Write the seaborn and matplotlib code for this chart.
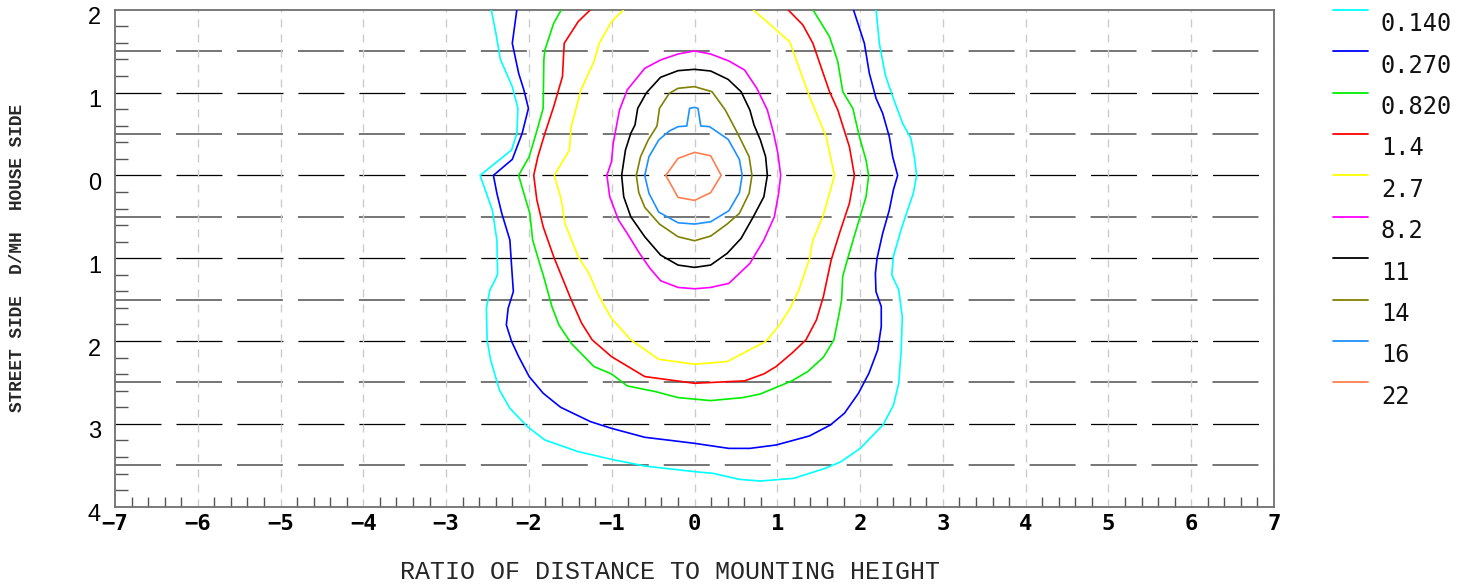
"""
Isolux contour chart: illuminance lines around a luminaire, plotted on D/MH axes.
"""
import matplotlib
matplotlib.use('Agg')
import matplotlib.pyplot as plt
import numpy as np
import pandas as pd
import seaborn as sns
from matplotlib.lines import Line2D
from matplotlib.ticker import FixedLocator
from matplotlib.transforms import ScaledTranslation

LEVELS = ['0.140', '0.270', '0.820', '1.4', '2.7', '8.2', '11', '14', '16', '22']
COLORS = ['#00ffff', '#0000ff', '#00ee00', '#ff0000', '#ffff00',
          '#ff00ff', '#000000', '#808000', '#1e90ff', '#ff7f50']

X_TICKS = list(range(-7, 8))
Y_TICKS = list(range(-4, 3))

# contour lines (x = D/MH across, y = D/MH house(+)/street(-))
cyan_x = [-2.455, -2.399, -2.345, -2.201, -2.133, -2.146, -2.209, -2.590, -2.442, -2.387,
          -2.378, -2.399, -2.472, -2.514, -2.505, -2.463, -2.357, -2.230, -2.019, -1.807,
          -1.405, -1.003, -0.601, 0.0, 0.224, 0.542, 0.796, 1.198, 1.579, 1.769,
          2.002, 2.277, 2.404, 2.467, 2.497, 2.510, 2.467, 2.383, 2.402, 2.494,
          2.574, 2.643, 2.683, 2.655, 2.614, 2.514, 2.394, 2.305, 2.233, 2.193]
cyan_y = [2.0, 1.715, 1.401, 1.071, 0.809, 0.507, 0.306, 0.0, -0.419, -0.781,
          -1.184, -1.242, -1.385, -1.604, -1.986, -2.228, -2.590, -2.812, -3.033, -3.195,
          -3.335, -3.428, -3.509, -3.577, -3.597, -3.670, -3.690, -3.658, -3.537, -3.457,
          -3.296, -3.013, -2.772, -2.510, -2.107, -1.705, -1.383, -1.201, -0.982, -0.660,
          -0.419, -0.217, 0.0, 0.225, 0.447, 0.628, 0.950, 1.212, 1.594, 2.0]

blue_x = [-2.146, -2.201, -2.124, -2.061, -2.006, -2.082, -2.201, -2.429, -2.387, -2.328,
          -2.230, -2.209, -2.188, -2.251, -2.273, -2.209, -2.124, -1.997, -1.828, -1.617,
          -1.257, -1.003, -0.601, -0.326, 0.0, 0.415, 0.669, 0.986, 1.388, 1.642,
          1.811, 1.981, 2.107, 2.213, 2.256, 2.256, 2.192, 2.185, 2.205, 2.273,
          2.353, 2.402, 2.454, 2.394, 2.353, 2.273, 2.193, 2.112, 2.052, 1.920]
blue_y = [2.0, 1.594, 1.232, 1.031, 0.809, 0.507, 0.193, 0.0, -0.217, -0.459,
          -0.781, -1.103, -1.403, -1.604, -1.805, -2.006, -2.188, -2.429, -2.630, -2.800,
          -2.973, -3.054, -3.162, -3.195, -3.235, -3.296, -3.296, -3.255, -3.146, -3.013,
          -2.872, -2.630, -2.389, -2.107, -1.825, -1.584, -1.403, -1.184, -1.002, -0.700,
          -0.419, -0.177, 0.0, 0.225, 0.467, 0.749, 0.930, 1.232, 1.594, 2.0]

green_x = [-1.608, -1.701, -1.807, -1.820, -1.828, -1.913, -1.997, -2.124, -2.061, -1.989,
           -1.955, -1.871, -1.828, -1.722, -1.638, -1.490, -1.215, -1.003, -0.813, -0.474,
           -0.199, 0.195, 0.584, 0.796, 1.176, 1.367, 1.557, 1.684, 1.748, 1.777,
           1.790, 1.851, 1.952, 2.072, 2.104, 2.072, 1.992, 1.912, 1.791, 1.731,
           1.631, 1.430]
green_y = [2.0, 1.836, 1.514, 1.393, 0.809, 0.507, 0.225, 0.0, -0.217, -0.459,
           -0.781, -1.063, -1.201, -1.584, -1.805, -2.027, -2.308, -2.397, -2.542, -2.610,
           -2.683, -2.719, -2.683, -2.639, -2.481, -2.369, -2.196, -1.986, -1.664, -1.503,
           -1.221, -1.002, -0.660, -0.258, 0.0, 0.185, 0.467, 0.809, 1.010, 1.373,
           1.675, 2.0]

red_x = [-1.257, -1.405, -1.574, -1.595, -1.701, -1.807, -1.892, -1.942, -1.904, -1.828,
         -1.701, -1.490, -1.363, -1.236, -1.003, -0.601, 0.0, 0.605, 0.838, 0.986,
         1.176, 1.346, 1.473, 1.557, 1.651, 1.751, 1.871, 1.932, 1.871, 1.731,
         1.631, 1.430, 1.309, 1.129]
red_y = [2.0, 1.856, 1.594, 1.192, 0.829, 0.507, 0.225, 0.0, -0.298, -0.620,
         -0.982, -1.500, -1.785, -1.986, -2.188, -2.429, -2.510, -2.481, -2.397, -2.308,
         -2.147, -1.986, -1.745, -1.463, -1.022, -0.700, -0.338, 0.0, 0.346, 0.789,
         1.010, 1.594, 1.816, 2.0]

yellow_x = [-0.855, -1.003, -1.151, -1.215, -1.371, -1.490, -1.511, -1.693, -1.608, -1.566,
            -1.405, -1.278, -1.151, -1.003, -0.770, -0.432, 0.0, 0.394, 0.859, 1.028,
            1.155, 1.261, 1.390, 1.430, 1.550, 1.631, 1.691, 1.590, 1.390, 1.149,
            0.988, 0.707]
yellow_y = [2.0, 1.856, 1.594, 1.373, 1.031, 0.588, 0.306, 0.0, -0.298, -0.580,
            -0.982, -1.181, -1.465, -1.725, -1.986, -2.220, -2.280, -2.248, -2.006, -1.805,
            -1.604, -1.382, -1.002, -0.781, -0.499, -0.217, 0.0, 0.467, 0.950, 1.614,
            1.755, 2.0]

magenta_x = [-1.058, -1.003, -0.982, -0.906, -0.813, -0.601, -0.410, -0.199, 0.0, 0.195,
             0.415, 0.605, 0.753, 0.880, 0.956, 1.007, 1.041, 1.016, 0.965, 0.838,
             0.669, 0.415, 0.195, 0.0, -0.199, -0.410, -0.537, -0.664, -0.813, -0.918,
             -1.024]
magenta_y = [0.0, 0.165, 0.386, 0.789, 1.031, 1.292, 1.393, 1.465, 1.502, 1.465,
             1.381, 1.272, 1.051, 0.789, 0.507, 0.266, 0.0, -0.217, -0.499, -0.781,
             -1.063, -1.304, -1.353, -1.369, -1.353, -1.272, -1.123, -0.942, -0.700, -0.539,
             -0.258]

black_x = [-0.880, -0.834, -0.770, -0.719, -0.686, -0.580, -0.410, -0.199, 0.0, 0.195,
           0.406, 0.563, 0.669, 0.719, 0.796, 0.859, 0.880, 0.838, 0.711, 0.563,
           0.394, 0.195, 0.0, -0.199, -0.410, -0.601, -0.770, -0.855]
black_y = [0.0, 0.306, 0.507, 0.608, 0.809, 0.998, 1.184, 1.264, 1.280, 1.260,
           1.159, 1.010, 0.789, 0.608, 0.427, 0.225, 0.0, -0.258, -0.499, -0.761,
           -0.942, -1.083, -1.111, -1.083, -0.962, -0.741, -0.499, -0.258]

olive_x = [-0.703, -0.652, -0.559, -0.453, -0.423, -0.305, -0.199, 0.0, 0.212, 0.372,
           0.521, 0.660, 0.694, 0.660, 0.542, 0.394, 0.195, 0.0, -0.199, -0.423,
           -0.601, -0.673]
olive_y = [0.0, 0.225, 0.427, 0.596, 0.809, 0.990, 1.051, 1.071, 1.010, 0.789,
           0.507, 0.225, 0.0, -0.217, -0.459, -0.588, -0.733, -0.789, -0.741, -0.588,
           -0.386, -0.209]

dodger_x = [-0.601, -0.550, -0.432, -0.305, -0.199, -0.093, -0.059, 0.0, 0.042, 0.076,
            0.182, 0.406, 0.542, 0.576, 0.542, 0.415, 0.195, 0.0, -0.199, -0.432,
            -0.550]
dodger_y = [0.0, 0.225, 0.427, 0.535, 0.588, 0.596, 0.809, 0.821, 0.809, 0.596,
            0.588, 0.435, 0.193, 0.0, -0.209, -0.427, -0.560, -0.588, -0.572, -0.443,
            -0.217]

coral_x = [-0.347, -0.199, 0.0, 0.195, 0.322, 0.195, 0.0, -0.199]
coral_y = [0.0, 0.205, 0.278, 0.237, 0.0, -0.209, -0.302, -0.266]

CONTOURS = [
    (cyan_x, cyan_y, False), (blue_x, blue_y, False), (green_x, green_y, False),
    (red_x, red_y, False), (yellow_x, yellow_y, False), (magenta_x, magenta_y, True),
    (black_x, black_y, True), (olive_x, olive_y, True), (dodger_x, dodger_y, True),
    (coral_x, coral_y, True),
]


def contour_table():
    frames = []
    for level, (xs, ys, closed) in zip(LEVELS, CONTOURS):
        if closed:
            xs = xs + xs[:1]
            ys = ys + ys[:1]
        frames.append(pd.DataFrame({'x': xs, 'y': ys, 'level': level}))
    return pd.concat(frames, ignore_index=True)


def main():
    sns.set_theme(style='white')
    plt.rcParams['lines.scale_dashes'] = False
    plt.rcParams['font.family'] = ['DejaVu Sans']

    W, H = 1466, 585
    fig = plt.figure(figsize=(W / 100, H / 100), dpi=100)
    left, right, top, bottom = 115, 1274, 9.7, 506.7
    ax = fig.add_axes([left / W, 1 - bottom / H, (right - left) / W, (bottom - top) / H])
    ax.set_facecolor('white')

    # horizontal long-dash grid every 0.5, vertical light dashed grid every 1
    for yv in np.arange(-3.5, 2.0, 0.5):
        half = abs(yv - round(yv)) > 0.1
        ax.axhline(yv, color='#6a6a6a' if half else '#000000',
                   lw=1.3 if half else 0.9, dashes=(33.1, 10.8), zorder=1)
    for xv in range(-6, 7):
        ax.axvline(xv, color='#cccccc', lw=1.0, dashes=(5.8, 5.0), zorder=1)

    df = contour_table()
    sns.lineplot(data=df, x='x', y='y', hue='level', hue_order=LEVELS,
                 palette=COLORS, sort=False, estimator=None, legend=False,
                 lw=1.2, ax=ax, zorder=3)

    ax.set_xlim(-7, 7)
    ax.set_ylim(-4, 2)
    ax.set_xlabel(None)
    ax.set_ylabel(None)

    ax.set_xticks(X_TICKS)
    ax.set_xticklabels([str(v).replace('-', '\u2212') for v in X_TICKS],
                       family='DejaVu Sans Mono', weight='bold', fontsize=16)
    ax.set_yticks(Y_TICKS)
    ax.set_yticklabels([str(abs(v)) for v in Y_TICKS], family='Liberation Sans', fontsize=17)
    minor_x = [round(v, 1) for v in np.arange(-7, 7.01, 0.2) if abs(v - round(v)) > 0.05]
    minor_y = [round(v, 1) for v in np.arange(-4, 2.01, 0.2) if abs(v - round(v)) > 0.05]
    ax.xaxis.set_minor_locator(FixedLocator(minor_x))
    ax.yaxis.set_minor_locator(FixedLocator(minor_y))
    ax.tick_params(which='major', length=0)
    ax.tick_params(axis='x', which='major', pad=5, colors='black')
    ax.tick_params(axis='y', which='major', pad=10, colors='black')
    ax.tick_params(axis='x', which='minor', direction='in', length=7.5, width=1.0,
                   color='#555555', bottom=True, top=False)
    ax.tick_params(axis='y', which='minor', direction='in', length=9.5, width=1.0,
                   color='#555555', left=True, right=False)
    shift = ScaledTranslation(0, -6 / 100, fig.dpi_scale_trans)
    for lab in ax.get_yticklabels():
        lab.set_transform(lab.get_transform() + shift)

    for side in ax.spines.values():
        side.set_visible(True)
        side.set_color('#707070')
        side.set_linewidth(1.3)

    # legend on the right: short line, value written underneath
    for i, (label, color) in enumerate(zip(LEVELS, COLORS)):
        ypix = top + i * 41.4
        fig.add_artist(Line2D([1333 / W, 1368 / W], [1 - ypix / H, 1 - ypix / H],
                              color=color, lw=1.3, transform=fig.transFigure))
        fig.text(1381 / W, 1 - (ypix + 14.5) / H, label, family='DejaVu Sans Mono',
                 fontsize=17, ha='left', va='center', color='#111111')

    fig.text(670 / W, 1 - 572 / H, 'RATIO OF DISTANCE TO MOUNTING HEIGHT',
             family='Liberation Mono', fontsize=18, ha='center', va='center')
    fig.text(17.5 / W, 1 - 258 / H, 'STREET SIDE  D/MH  HOUSE SIDE', rotation=90,
             family='Liberation Mono', weight='bold', fontsize=12.8,
             ha='center', va='center')

    fig.savefig('out.png', dpi=100)
    plt.close(fig)


if __name__ == '__main__':
    main()
